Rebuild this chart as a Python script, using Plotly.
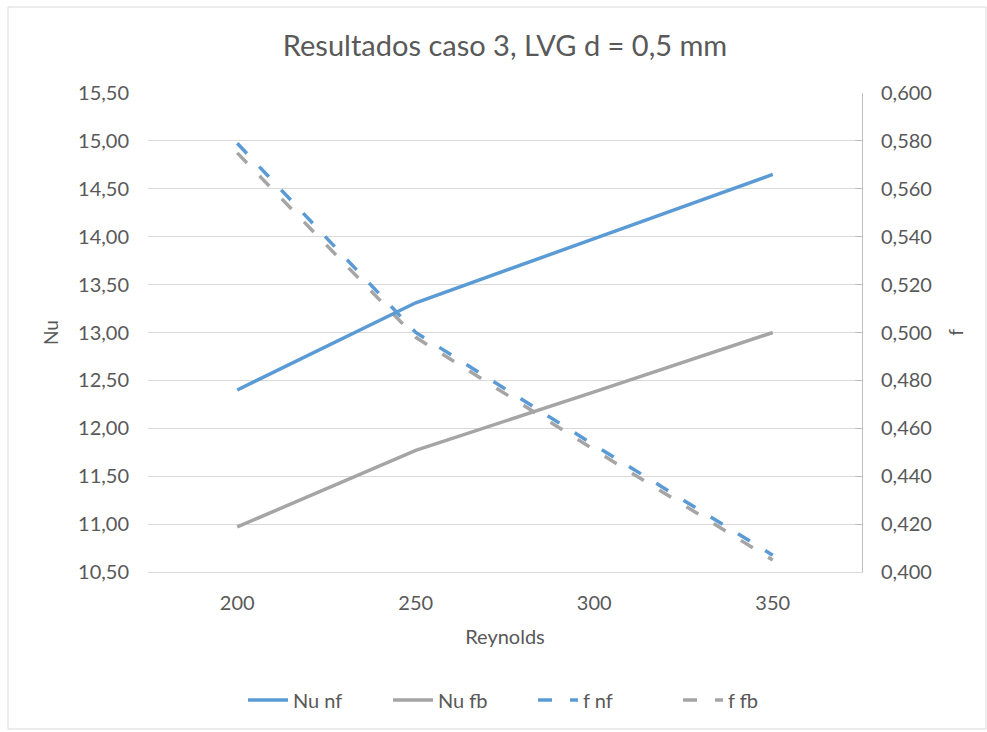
import plotly.graph_objects as go

# Reynolds number categories
reynolds = ["200", "250", "300", "350"]

# Nusselt number (left axis)
nu_nf = [12.40, 13.31, 13.98, 14.65]
nu_fb = [10.97, 11.77, 12.38, 13.00]

# Friction factor (right axis)
f_nf = [0.579, 0.500, 0.453, 0.407]
f_fb = [0.575, 0.498, 0.451, 0.405]

nu_ticks = [10.5 + 0.5 * i for i in range(11)]
f_ticks = [0.40 + 0.02 * i for i in range(11)]

BLUE = "#5B9BD5"
GRAY = "#A5A5A5"
TXT = "#595959"
GRID = "#D9D9D9"
FONT = "Lato"

W, H = 987, 732
L, R, T, B = 148, 125, 93, 160
PW, PH = W - L - R, H - T - B


def px_x(x):
    return (x - L) / PW


def px_y(y):
    return (H - B - y) / PH


fig = go.Figure()

# friction factor series on the base (right) axis, drawn first
fig.add_trace(go.Scatter(x=reynolds, y=f_fb, name="f fb", mode="lines",
                         line=dict(color=GRAY, width=3.5, dash="14px,18px"),
                         yaxis="y", legendrank=4))
fig.add_trace(go.Scatter(x=reynolds, y=f_nf, name="f nf", mode="lines",
                         line=dict(color=BLUE, width=3.5, dash="14px,18px"),
                         yaxis="y", legendrank=3))
# Nusselt series on the overlaid (left) axis
fig.add_trace(go.Scatter(x=reynolds, y=nu_fb, name="Nu fb", mode="lines",
                         line=dict(color=GRAY, width=3.5),
                         yaxis="y2", legendrank=2))
fig.add_trace(go.Scatter(x=reynolds, y=nu_nf, name="Nu nf", mode="lines",
                         line=dict(color=BLUE, width=3.5),
                         yaxis="y2", legendrank=1))

fig.update_layout(
    width=W, height=H,
    margin=dict(l=L, r=R, t=T, b=B),
    paper_bgcolor="white", plot_bgcolor="white",
    separators=",.",
    font=dict(family=FONT, color=TXT, size=20),
    title=dict(text="Resultados caso 3, LVG d = 0,5 mm", x=0.5, xanchor="center",
               xref="paper", y=1 - 46 / H, yanchor="middle",
               font=dict(family=FONT, size=29, color=TXT)),
    xaxis=dict(type="category", range=[-0.5, 3.5], showgrid=False,
               showline=True, linecolor=GRID, linewidth=1, ticks="",
               ticklabelstandoff=13,
               title=dict(text="Reynolds", standoff=16, font=dict(size=20, color=TXT)),
               tickfont=dict(size=20, color=TXT)),
    yaxis=dict(side="right", range=[0.40, 0.60], tickvals=f_ticks, tickformat=".3f",
               showgrid=True, gridcolor=GRID, gridwidth=1, zeroline=False,
               showline=True, linecolor="#BFBFBF", linewidth=1,
               ticks="inside", ticklen=7, tickcolor="#BFBFBF",
               ticklabelstandoff=14,
               title=dict(text="f", standoff=18, font=dict(size=19, color=TXT)),
               tickfont=dict(size=20, color=TXT)),
    yaxis2=dict(side="left", overlaying="y", range=[10.5, 15.5], tickvals=nu_ticks,
                tickformat=".2f", showgrid=False, zeroline=False, showline=False,
                ticks="", ticklabelstandoff=18,
                title=dict(text="Nu", standoff=14, font=dict(size=19, color=TXT)),
                tickfont=dict(size=20, color=TXT)),
    legend=dict(orientation="h", x=px_x(533), xanchor="center", y=px_y(700), yanchor="middle",
                font=dict(size=20, color=TXT), itemwidth=40,
                entrywidth=90, entrywidthmode="pixels",
                traceorder="normal"),
    shapes=[dict(type="rect", xref="paper", yref="paper",
                 x0=px_x(8), x1=px_x(986), y0=px_y(729), y1=px_y(7),
                 line=dict(color=GRID, width=1), fillcolor="rgba(0,0,0,0)", layer="below")],
)

fig.write_html("out.html")
